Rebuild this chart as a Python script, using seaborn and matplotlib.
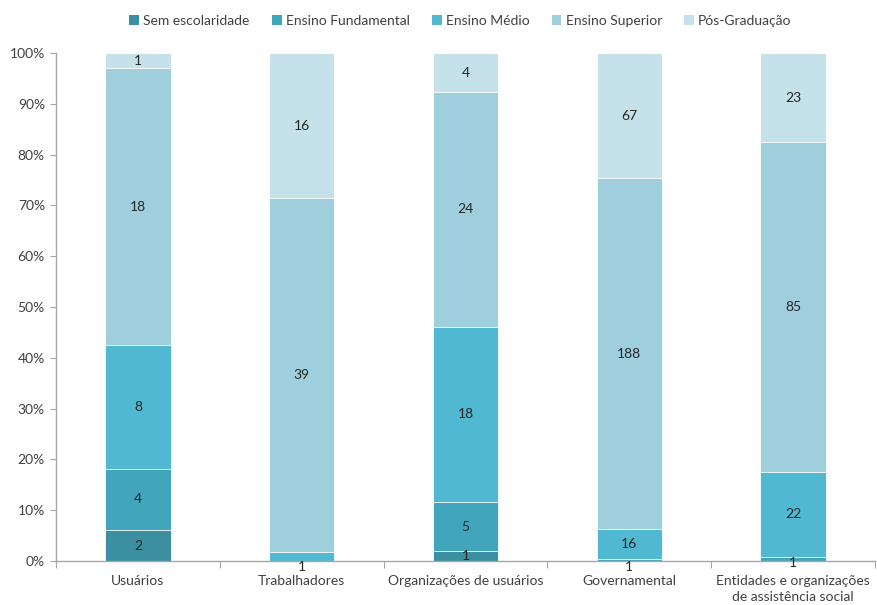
import numpy as np
import pandas as pd
import matplotlib
matplotlib.use("Agg")
import matplotlib.pyplot as plt
import seaborn as sns
from matplotlib.patches import Patch

categories = ["Usuários", "Trabalhadores", "Organizações de usuários",
              "Governamental", "Entidades e organizações\nde assistência social"]
series = ["Sem escolaridade", "Ensino Fundamental", "Ensino Médio",
          "Ensino Superior", "Pós-Graduação"]
sem_escolaridade = [2, 0, 1, 0, 0]
ensino_fundamental = [4, 0, 5, 1, 1]
ensino_medio = [8, 1, 18, 16, 22]
ensino_superior = [18, 39, 24, 188, 85]
pos_graduacao = [1, 16, 4, 67, 23]
colors = ["#3B8FA1", "#41A5BC", "#50B8D1", "#9FCFDD", "#C5E1EA"]

values = np.array([sem_escolaridade, ensino_fundamental, ensino_medio,
                   ensino_superior, pos_graduacao], dtype=float)
totals = values.sum(axis=0)
pct = values / totals * 100
cum = np.cumsum(pct, axis=0)

sns.set_theme(style="white")
plt.rcParams['font.family'] = ['Lato', 'DejaVu Sans']

fig = plt.figure(figsize=(8.77, 6.05), dpi=100)
ax = fig.add_axes([56/877, 1-561/605, 819/877, (561-53)/605])

# draw from top series to bottom so lower segments overlay
for i in range(len(series)-1, -1, -1):
    df = pd.DataFrame({"cat": categories, "val": cum[i]})
    sns.barplot(data=df, x="cat", y="val", color=colors[i], width=0.4,
                edgecolor="white", linewidth=0.6, ax=ax, saturation=1)

# labels
for i in range(len(series)):
    for j in range(len(categories)):
        v = values[i, j]
        if v <= 0:
            continue
        lo = cum[i, j] - pct[i, j]
        y = lo + pct[i, j] / 2
        if pct[i, j] < 1.85:
            y = min(lo + pct[i, j] / 2 - 1.8, -0.3)
            y = -1.2 if pct[i, j] < 0.5 or i == 2 else -0.4
        ax.text(j, y, f"{int(v)}", ha="center", va="center", fontsize=10,
                color="#262626", clip_on=False)

ax.set_xlim(-0.5, 4.5)
ax.set_ylim(0, 100)
ax.set_yticks(np.arange(0, 101, 10))
ax.set_yticklabels([f"{t}%" for t in range(0, 101, 10)])
ax.set_xlabel("")
ax.set_ylabel("")
ax.set_xticks(range(len(categories)))
ax.set_xticklabels(categories, linespacing=1.45)
ax.set_xticks(np.arange(-0.5, 4.6, 1), minor=True)
ax.tick_params(axis="x", which="major", length=0, pad=10, labelsize=10,
               labelcolor="#404040")
ax.tick_params(axis="x", which="minor", length=5, color="#A6A6A6", width=0.8,
               direction="out", bottom=True)
ax.tick_params(axis="y", length=4, color="#A6A6A6", width=0.8, direction="out",
               left=True, labelsize=10, labelcolor="#404040", pad=4)
for s in ["top", "right"]:
    ax.spines[s].set_visible(False)
for s in ["left", "bottom"]:
    ax.spines[s].set_color("#A6A6A6")
    ax.spines[s].set_linewidth(1.0)

handles = [Patch(facecolor=c, edgecolor="none") for c in colors]
fig.legend(handles, series, loc="center", bbox_to_anchor=(0.525, 0.966),
           ncol=5, frameon=False, fontsize=10, handlelength=0.7,
           handleheight=0.7, handletextpad=0.3, columnspacing=1.6,
           labelcolor="#404040")

fig.savefig("out.png", dpi=100)
